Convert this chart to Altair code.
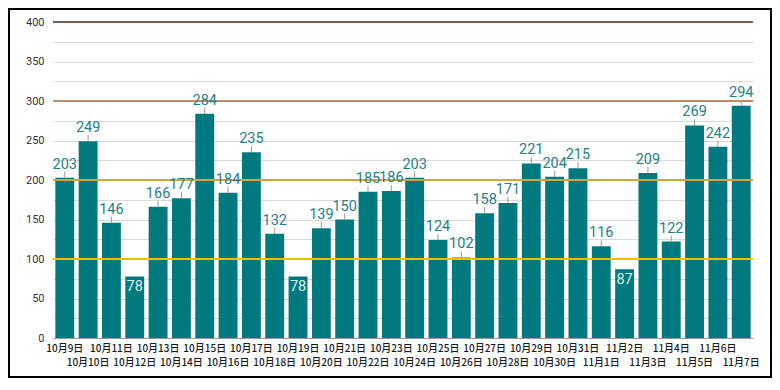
import altair as alt
import pandas as pd

dates = ["10月9日", "10月10日", "10月11日", "10月12日", "10月13日", "10月14日", "10月15日",
         "10月16日", "10月17日", "10月18日", "10月19日", "10月20日", "10月21日", "10月22日",
         "10月23日", "10月24日", "10月25日", "10月26日", "10月27日", "10月28日", "10月29日",
         "10月30日", "10月31日", "11月1日", "11月2日", "11月3日", "11月4日", "11月5日",
         "11月6日", "11月7日"]
values = [203, 249, 146, 78, 166, 177, 284, 184, 235, 132, 78, 139, 150, 185, 186, 203,
          124, 102, 158, 171, 221, 204, 215, 116, 87, 209, 122, 269, 242, 294]
ref_values = [100, 200, 300, 400]
ref_colors = ["#f0c000", "#d8a23e", "#c48a68", "#7d5c52"]
grid_values = list(range(0, 401, 25))

df = pd.DataFrame({"date": dates, "value": values, "idx": list(range(len(dates)))})
refs = pd.DataFrame({"value": ref_values, "c": ref_colors})

W, H = 700, 316
TEAL = "#00797f"

xenc = alt.X("date:N", sort=dates,
             scale=alt.Scale(paddingInner=0.19, paddingOuter=0.1),
             axis=alt.Axis(title=None, labels=False, ticks=False, domainColor="#999999",
                           domainWidth=1))
yscale = alt.Scale(domain=[0, 400], nice=False)
yaxis = alt.Axis(title=None, values=grid_values, domain=False, ticks=False,
                 labelExpr="datum.value % 50 == 0 ? datum.label : ''",
                 labelFont="Roboto", labelFontSize=11, labelColor="#333333",
                 labelPadding=9, grid=True, gridColor="#d9d9d9", gridWidth=1)
yenc = alt.Y("value:Q", scale=yscale, axis=yaxis)

base = alt.Chart(df)

bars = base.mark_bar(color=TEAL).encode(x=xenc, y=yenc)

ticks = base.transform_filter("datum.value >= 100").mark_rule(
    color="#999999", strokeWidth=1, y2Offset=-6
).encode(x=xenc, y=yenc, y2="value:Q")

labels_out = base.transform_filter("datum.value >= 100").mark_text(
    baseline="bottom", dy=-6, font="Roboto", fontSize=14.5, color="#1f8088"
).encode(x=xenc, y=yenc, text="value:Q")

labels_in = base.transform_filter("datum.value < 100").mark_text(
    baseline="top", dy=4, font="Roboto", fontSize=14.5, color="#dff4f4"
).encode(x=xenc, y=yenc, text="value:Q")

xl_row1 = base.transform_filter("datum.idx % 2 == 0").mark_text(
    baseline="middle", font="Noto Sans CJK JP", fontSize=10, fontWeight=500, color="#1a1a1a"
).encode(x=xenc, y=alt.value(H + 10.5), text="date:N")

xl_row2 = base.transform_filter("datum.idx % 2 == 1").mark_text(
    baseline="middle", font="Noto Sans CJK JP", fontSize=10, fontWeight=500, color="#1a1a1a"
).encode(x=xenc, y=alt.value(H + 24.5), text="date:N")

reflines = alt.Chart(refs).mark_rule(strokeWidth=2).encode(
    y=yenc,
    color=alt.Color("c:N", scale=None, legend=None),
)

frame = alt.Chart(alt.Data(values=[{"a": 1}])).mark_rect(
    fill=None, fillOpacity=0, stroke="#000000", strokeWidth=2
).encode(
    x=alt.value(-44), x2=alt.value(W + 18),
    y=alt.value(-13), y2=alt.value(H + 39),
)

chart = alt.layer(bars, reflines, ticks, labels_out, labels_in, xl_row1, xl_row2, frame).properties(
    width=W, height=H,
    autosize=alt.AutoSizeParams(type="none"),
    padding={"left": 45, "top": 14, "right": 19, "bottom": 40},
    background="white",
).configure_view(stroke=None)

chart.save("out.html", embed_options={"renderer": "svg", "actions": False})
